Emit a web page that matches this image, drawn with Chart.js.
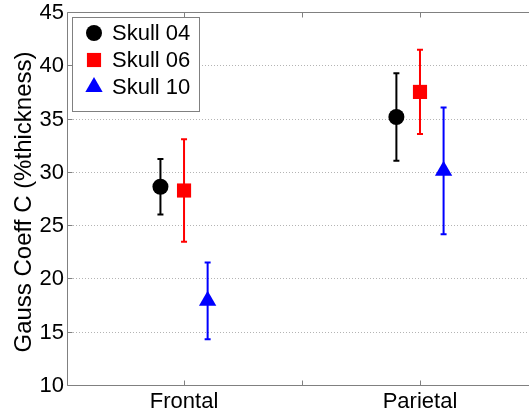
<!DOCTYPE html>
<html>
<head>
    <title>Gauss Coeff C</title>
    <script src="https://cdn.jsdelivr.net/npm/chart.js"></script>
    <style>
        html, body { margin: 0; padding: 0; overflow: hidden; background: #fff; }
        canvas { display: block; }
    </style>
</head>
<body>
    <canvas id="gaussChart" width="529" height="414"></canvas>

    <script>
        // Regiones del cráneo (eje x) y valores medios con su error
        var categories = ['Frontal', 'Parietal'];
        var seriesNames = ['Skull 04', 'Skull 06', 'Skull 10'];

        var skull04Mean = [28.6, 35.15];
        var skull04Err = [2.6, 4.1];
        var skull06Mean = [28.25, 37.5];
        var skull06Err = [4.8, 3.95];
        var skull10Mean = [17.9, 30.1];
        var skull10Err = [3.6, 5.95];

        var yTicks = [10, 15, 20, 25, 30, 35, 40, 45];
        var xTicks = [1, 1.5, 2];

        var FONT = '22px "Liberation Sans", Arial, sans-serif';
        var TITLE_FONT = '24px "Liberation Sans", Arial, sans-serif';
        var AXIS_COLOR = '#808080';

        function puntos(medias, errores, desplazamiento) {
            return medias.map(function (m, i) {
                return { x: i + 1 + desplazamiento, y: m, err: errores[i] };
            });
        }

        // Barras de error, caja, marcas y etiquetas al estilo MATLAB
        var ejesPlugin = {
            id: 'ejesMatlab',
            beforeDatasetsDraw: function (chart) {
                var ctx = chart.ctx;
                var area = chart.chartArea;
                var xs = chart.scales.x;
                var ys = chart.scales.y;

                // rejilla punteada
                ctx.save();
                ctx.strokeStyle = '#b4b4b4';
                ctx.lineWidth = 1;
                ctx.setLineDash([1, 2]);
                yTicks.forEach(function (t) {
                    if (t === 10 || t === 45) return;
                    var y = Math.round(ys.getPixelForValue(t)) + 0.5;
                    ctx.beginPath();
                    ctx.moveTo(area.left, y);
                    ctx.lineTo(area.right, y);
                    ctx.stroke();
                });
                ctx.restore();

                // barras de error
                chart.data.datasets.forEach(function (ds) {
                    ctx.save();
                    ctx.strokeStyle = ds.backgroundColor;
                    ctx.lineWidth = 2;
                    ds.data.forEach(function (p) {
                        var x = xs.getPixelForValue(p.x);
                        var yTop = ys.getPixelForValue(p.y + p.err);
                        var yBot = ys.getPixelForValue(p.y - p.err);
                        ctx.beginPath();
                        ctx.moveTo(x, yTop);
                        ctx.lineTo(x, yBot);
                        ctx.moveTo(x - 3, yTop);
                        ctx.lineTo(x + 3, yTop);
                        ctx.moveTo(x - 3, yBot);
                        ctx.lineTo(x + 3, yBot);
                        ctx.stroke();
                    });
                    ctx.restore();
                });
            },
            afterDatasetsDraw: function (chart) {
                var ctx = chart.ctx;
                var area = chart.chartArea;
                var xs = chart.scales.x;
                var ys = chart.scales.y;
                var left = Math.round(area.left) + 0.5;
                var top = Math.round(area.top) + 0.5;
                var bottom = Math.round(area.bottom) + 0.5;

                // caja (el borde derecho queda fuera de la imagen)
                ctx.save();
                ctx.strokeStyle = AXIS_COLOR;
                ctx.lineWidth = 1;
                ctx.beginPath();
                ctx.moveTo(area.right + 1, top);
                ctx.lineTo(left, top);
                ctx.lineTo(left, bottom);
                ctx.lineTo(area.right + 1, bottom);

                // marcas hacia dentro
                yTicks.forEach(function (t) {
                    var y = Math.round(ys.getPixelForValue(t)) + 0.5;
                    ctx.moveTo(left, y);
                    ctx.lineTo(left + 5, y);
                });
                xTicks.forEach(function (t) {
                    var x = Math.round(xs.getPixelForValue(t)) + 0.5;
                    ctx.moveTo(x, bottom);
                    ctx.lineTo(x, bottom - 5);
                    ctx.moveTo(x, top);
                    ctx.lineTo(x, top + 5);
                });
                ctx.stroke();

                // etiquetas
                ctx.fillStyle = '#000';
                ctx.font = FONT;
                ctx.textAlign = 'right';
                ctx.textBaseline = 'middle';
                yTicks.forEach(function (t) {
                    ctx.fillText(String(t), area.left - 3, ys.getPixelForValue(t) + 1);
                });
                ctx.textAlign = 'center';
                ctx.textBaseline = 'top';
                categories.forEach(function (c, i) {
                    ctx.fillText(c, xs.getPixelForValue(i + 1), area.bottom + 6);
                });

                // título del eje y
                ctx.save();
                ctx.font = TITLE_FONT;
                ctx.translate(24, 202);
                ctx.rotate(-Math.PI / 2);
                ctx.textBaseline = 'middle';
                ctx.fillText('Gauss Coeff C (%thickness)', 0, 0);
                ctx.restore();

                // leyenda
                var lx = 72, ly = 17, lw = 127, lh = 94;
                ctx.fillStyle = '#fff';
                ctx.fillRect(lx, ly, lw, lh);
                ctx.strokeStyle = AXIS_COLOR;
                ctx.strokeRect(lx + 0.5, ly + 0.5, lw, lh);
                chart.data.datasets.forEach(function (ds, i) {
                    var cy = 33 + i * 27;
                    var cx = 94;
                    ctx.fillStyle = ds.backgroundColor;
                    ctx.beginPath();
                    if (ds.pointStyle === 'circle') {
                        ctx.arc(cx, cy, ds.pointRadius, 0, Math.PI * 2);
                    } else if (ds.pointStyle === 'rect') {
                        var s = ds.pointRadius * Math.SQRT1_2;
                        ctx.rect(cx - s, cy - s, 2 * s, 2 * s);
                    } else {
                        var r = ds.pointRadius;
                        ctx.moveTo(cx, cy - r);
                        ctx.lineTo(cx + 0.866 * r, cy + 0.5 * r);
                        ctx.lineTo(cx - 0.866 * r, cy + 0.5 * r);
                        ctx.closePath();
                    }
                    ctx.fill();
                    ctx.fillStyle = '#000';
                    ctx.font = FONT;
                    ctx.textAlign = 'left';
                    ctx.textBaseline = 'middle';
                    ctx.fillText(ds.label, 112, cy + 1);
                });
                ctx.restore();
            }
        };

        var ctx = document.getElementById('gaussChart').getContext('2d');

        var gaussChart = new Chart(ctx, {
            type: 'scatter',
            data: {
                datasets: [{
                    label: seriesNames[0],
                    data: puntos(skull04Mean, skull04Err, -0.1),
                    backgroundColor: '#000000',
                    borderColor: '#000000',
                    pointStyle: 'circle',
                    pointRadius: 8,
                    borderWidth: 0
                }, {
                    label: seriesNames[1],
                    data: puntos(skull06Mean, skull06Err, 0),
                    backgroundColor: '#ff0000',
                    borderColor: '#ff0000',
                    pointStyle: 'rect',
                    pointRadius: 10,
                    borderWidth: 0
                }, {
                    label: seriesNames[2],
                    data: puntos(skull10Mean, skull10Err, 0.1),
                    backgroundColor: '#0000ff',
                    borderColor: '#0000ff',
                    pointStyle: 'triangle',
                    pointRadius: 10,
                    borderWidth: 0
                }]
            },
            options: {
                responsive: false,
                animation: false,
                devicePixelRatio: 1,
                layout: {
                    autoPadding: false,
                    padding: { top: 12, right: 0, left: 0, bottom: 0 }
                },
                plugins: {
                    legend: { display: false },
                    tooltip: { enabled: false }
                },
                scales: {
                    x: {
                        type: 'linear',
                        // el eje va de 0.5 a 2.5; la figura está recortada a la derecha
                        min: 0.504,
                        max: 2.462,
                        grid: { display: false },
                        border: { display: false },
                        ticks: { display: false },
                        afterFit: function (scale) { scale.height = 29; }
                    },
                    y: {
                        min: 10,
                        max: 45,
                        grid: { display: false },
                        border: { display: false },
                        ticks: { display: false },
                        afterFit: function (scale) { scale.width = 67; }
                    }
                }
            },
            plugins: [ejesPlugin]
        });
    </script>
</body>
</html>
